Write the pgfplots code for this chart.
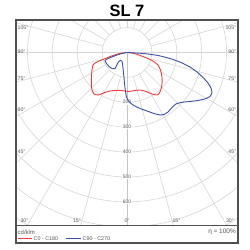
\documentclass[border=0pt]{standalone}
\usepackage{fontspec}
\setmainfont{Liberation Sans}
\usepackage{pgfplots}
\pgfplotsset{compat=1.18}
\definecolor{gridc}{HTML}{D6D6D6}
\definecolor{axc}{HTML}{C4C4C4}
\definecolor{lblc}{HTML}{555555}
\definecolor{framec}{HTML}{505050}
\definecolor{redc}{HTML}{EE3B3B}
\definecolor{bluec}{HTML}{3A4FA8}
\begin{document}
\begin{tikzpicture}[x=1bp,y=1bp]
\useasboundingbox (0,0) rectangle (250,250);
\fill[white] (0,0) rectangle (250,250);
\begin{axis}[
  at={(16bp,25bp)}, anchor=south west,
  scale only axis, width=222bp, height=205bp,
  xmin=-446, xmax=446, ymin=-693, ymax=130.5,
  axis lines=none, clip=true,
]
\pgfplotsinvokeforeach{100,200,...,900}{
  \draw[gridc, line width=0.6pt] (axis cs:0,0) circle[radius=#1];
}
\pgfplotsinvokeforeach{15,30,...,165}{
  \draw[gridc, line width=0.6pt] (axis cs:{100*sin(#1)},{-100*cos(#1)}) -- (axis cs:{1000*sin(#1)},{-1000*cos(#1)});
  \draw[gridc, line width=0.6pt] (axis cs:{-100*sin(#1)},{-100*cos(#1)}) -- (axis cs:{-1000*sin(#1)},{-1000*cos(#1)});
}
\draw[gridc, line width=0.6pt] (axis cs:-1000,0) -- (axis cs:1000,0);
\draw[gridc, line width=0.6pt] (axis cs:0,100) -- (axis cs:0,1000);
\draw[axc, line width=0.9pt] (axis cs:0,0) -- (axis cs:0,-1000);
\pgfplotsinvokeforeach{200,300,...,600}{
  \node[fill=white, inner sep=0.5pt, font=\fontsize{5}{5}\selectfont, text=lblc] at (axis cs:0,-#1) {#1};
}
\addplot[redc, line width=0.9pt, smooth, tension=0.35] coordinates {
(0,0) (-28.1,-4.0) (-56.2,-12.0) (-92.4,-26.1) (-124.5,-40.2) (-136.5,-50.2)
(-140.6,-70.3) (-142.6,-98.4) (-143.4,-126.5) (-140.6,-150.6) (-132.5,-166.7)
(-114.5,-170.7) (-94.4,-162.6) (-68.3,-154.6) (-40.2,-151.8) (-16.1,-153.4)
(6.0,-156.6) (28.1,-153.4) (52.2,-150.6) (76.3,-156.6) (100.4,-166.7)
(122.5,-170.7) (134.5,-154.6) (140.6,-126.5) (140.6,-98.4) (134.5,-70.3)
(124.5,-50.2) (100.4,-32.1) (68.3,-18.1) (36.1,-6.0) (12.0,-1.2) (0,0)
};
\addplot[bluec, line width=0.9pt, smooth, tension=0.35] coordinates {
(0,0) (-28.1,-6.0) (-56.2,-16.1) (-76.3,-24.1) (-88.4,-32.1) (-82.3,-44.2)
(-72.3,-56.2) (-58.2,-65.5) (-48.2,-64.3) (-42.2,-52.2) (-34.1,-38.2)
(-26.1,-31.3) (-20.1,-36.1) (-17.3,-50.2) (-15.3,-70.3) (-12.0,-102.4)
(-8.0,-142.6) (-2.0,-178.7) (8.0,-196.8) (24.1,-210.8) (52.2,-224.9)
(80.3,-234.9) (108.4,-245.0) (132.5,-251.0) (148.6,-249.0) (164.7,-239.0)
(180.7,-220.9) (196.8,-206.8) (220.9,-200.0) (253.0,-196.8) (285.1,-192.8)
(313.2,-186.7) (333.3,-176.7) (341.4,-160.6) (337.3,-142.6) (325.3,-122.5)
(305.2,-100.4) (281.1,-78.3) (253.0,-58.2) (216.9,-40.2) (172.7,-24.1)
(124.5,-12.0) (76.3,-5.2) (36.1,-2.0) (0,0)
};
\end{axis}
% frame
\draw[framec, line width=1.2pt] (16,7) rectangle (238,230);
\draw[framec, line width=0.9pt] (16,25) -- (238,25);
% angle labels
\begin{scope}[every node/.style={font=\fontsize{5.2}{5.2}\selectfont, text=lblc, inner sep=0pt}]
\node[anchor=west] at (17.5,222) {105°};
\node[anchor=west] at (17.5,198) {90°};
\node[anchor=west] at (17.5,171) {75°};
\node[anchor=west] at (17.5,140) {60°};
\node[anchor=west] at (17.5,98) {45°};
\node[anchor=east] at (236.5,222) {105°};
\node[anchor=east] at (236.5,198) {90°};
\node[anchor=east] at (236.5,171) {75°};
\node[anchor=east] at (236.5,140) {60°};
\node[anchor=east] at (236.5,98) {45°};
\node at (24.5,29) {30°};
\node at (77,29) {15°};
\node at (127,29) {0°};
\node at (176.5,29) {15°};
\node at (230,29) {30°};
\end{scope}
% legend
\node[anchor=west, inner sep=0pt, font=\fontsize{6}{6}\selectfont, text=lblc] at (17.5,18) {cd/klm};
\draw[redc, line width=0.9pt] (18,11.5) -- (32,11.5);
\node[anchor=west, inner sep=0pt, font=\fontsize{5.4}{5.4}\selectfont, text=lblc] at (33.5,11.5) {C0 - C180};
\draw[bluec, line width=0.9pt] (66,11.5) -- (81,11.5);
\node[anchor=west, inner sep=0pt, font=\fontsize{5.4}{5.4}\selectfont, text=lblc] at (82.5,11.5) {C90 - C270};
\node[anchor=east, inner sep=0pt, font=\fontsize{6.5}{6.5}\selectfont, text=lblc] at (236,18) {η = 100\%};
% title
\node[font=\fontsize{16.5}{18}\selectfont\bfseries] at (127,239) {SL 7};
\end{tikzpicture}
\end{document}
